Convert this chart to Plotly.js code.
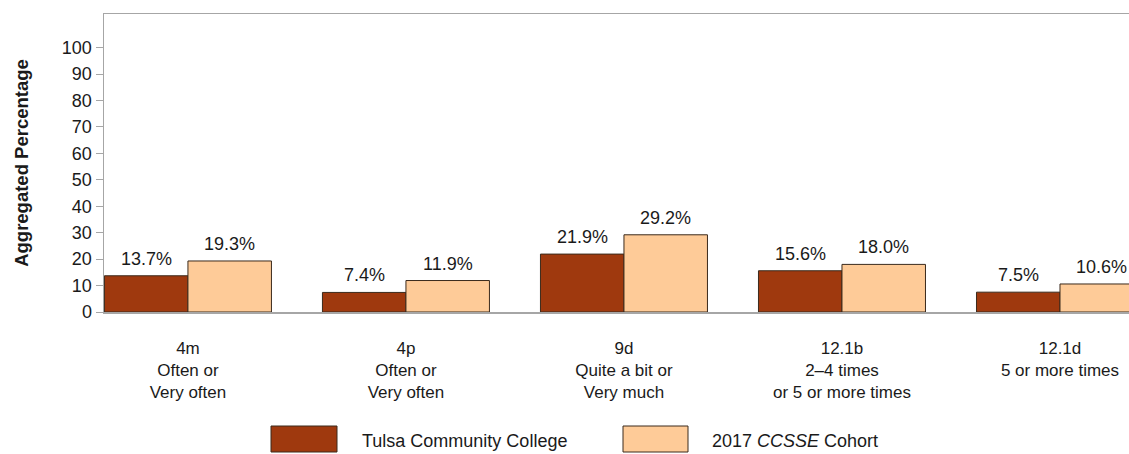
<!DOCTYPE html>
<html>
<head>
<meta charset="utf-8">
<script src="https://cdn.plot.ly/plotly-3.0.1.min.js"></script>
<style>
  html, body { margin: 0; padding: 0; overflow: hidden; background: #fff; }
  #chart { width: 1160px; height: 454px; }
</style>
</head>
<body>
<div id="chart"></div>
<script>
// ---- data ----
const itemCodes = ['4m', '4p', '9d', '12.1b', '12.1d'];
const responseLabels = [
  'Often or<br>Very often',
  'Often or<br>Very often',
  'Quite a bit or<br>Very much',
  '2–4 times<br>or 5 or more times',
  '5 or more times'
];
const tulsaValues = [13.7, 7.4, 21.9, 15.6, 7.5];
const cohortValues = [19.3, 11.9, 29.2, 18.0, 10.6];
const seriesNames = ['Tulsa Community College', '2017 <i>CCSSE</i> Cohort'];
const yTickValues = [0, 10, 20, 30, 40, 50, 60, 70, 80, 90, 100];

// ---- style ----
const FONT = 'Liberation Sans, Arial, Helvetica, sans-serif';
const darkColor = '#9f390e';
const lightColor = '#fecb98';
const outline = '#3b2a1c';
const axisGray = '#a6a6a6';
const BARGAP = 0.234;
const halfOffset = (1 - BARGAP) / 4;

const W = 1160, H = 454;
const M = { l: 104, r: 0, t: 14, b: 142 };
const plotW = W - M.l - M.r, plotH = H - M.t - M.b;

const tickText = itemCodes.map((c, i) => c + '<br>' + responseLabels[i]);

const traces = [
  {
    type: 'bar', name: 'Tulsa Community College',
    x: itemCodes, y: tulsaValues,
    marker: { color: darkColor, line: { color: outline, width: 1 } },
    hoverinfo: 'skip'
  },
  {
    type: 'bar', name: '2017 CCSSE Cohort',
    x: itemCodes, y: cohortValues,
    marker: { color: lightColor, line: { color: outline, width: 1 } },
    hoverinfo: 'skip'
  }
];

const annotations = [];
[[tulsaValues, -halfOffset], [cohortValues, halfOffset]].forEach(([vals, off]) => {
  vals.forEach((v, i) => {
    annotations.push({
      x: i + off, y: v, xref: 'x', yref: 'y',
      text: v.toFixed(1) + '%', showarrow: false,
      yanchor: 'bottom', yshift: 5,
      font: { family: FONT, size: 18, color: '#1a1a1a' }
    });
  });
});

// legend (custom, wide swatches)
const px2x = p => (p - M.l) / plotW;
const px2y = p => (M.t + plotH - p) / plotH;
const legendItems = [
  { x0: 271, x1: 337, tx: 360, color: darkColor, name: seriesNames[0] },
  { x0: 623, x1: 688, tx: 710, color: lightColor, name: seriesNames[1] }
];
const shapes = legendItems.map(it => ({
  type: 'rect', xref: 'paper', yref: 'paper',
  x0: px2x(it.x0), x1: px2x(it.x1), y0: px2y(426), y1: px2y(452),
  fillcolor: it.color, line: { color: outline, width: 1 }
}));
legendItems.forEach(it => {
  annotations.push({
    xref: 'paper', yref: 'paper', x: px2x(it.tx), y: px2y(441),
    xanchor: 'left', yanchor: 'middle', showarrow: false,
    text: it.name, font: { family: FONT, size: 18, color: '#1a1a1a' }
  });
});

const layout = {
  width: W, height: H,
  margin: M,
  paper_bgcolor: '#fff', plot_bgcolor: '#fff',
  font: { family: FONT, size: 18, color: '#1a1a1a' },
  showlegend: false,
  barmode: 'group', bargap: BARGAP, bargroupgap: 0,
  xaxis: {
    type: 'category',
    range: [-0.385, (W - M.r - 188) / 218],
    tickvals: itemCodes, ticktext: tickText,
    ticks: '', showgrid: false, zeroline: false,
    showline: true, linecolor: axisGray, linewidth: 1.5, mirror: true,
    ticklabelstandoff: 20,
    tickfont: { family: FONT, size: 17, color: '#1a1a1a' },
    automargin: false, fixedrange: true
  },
  yaxis: {
    range: [0, 112.7],
    tickvals: yTickValues,
    ticks: 'outside', ticklen: 7, tickcolor: axisGray, tickwidth: 1,
    showgrid: false, zeroline: false,
    showline: true, linecolor: axisGray, linewidth: 1.5, mirror: true,
    tickfont: { family: FONT, size: 18, color: '#1a1a1a' },
    title: {
      text: '<b>Aggregated Percentage</b>',
      font: { family: FONT, size: 18.5, color: '#1a1a1a' },
      standoff: 28
    },
    automargin: false, fixedrange: true
  },
  annotations: annotations,
  shapes: shapes
};

Plotly.newPlot('chart', traces, layout, { displayModeBar: false, staticPlot: true });
</script>
</body>
</html>
